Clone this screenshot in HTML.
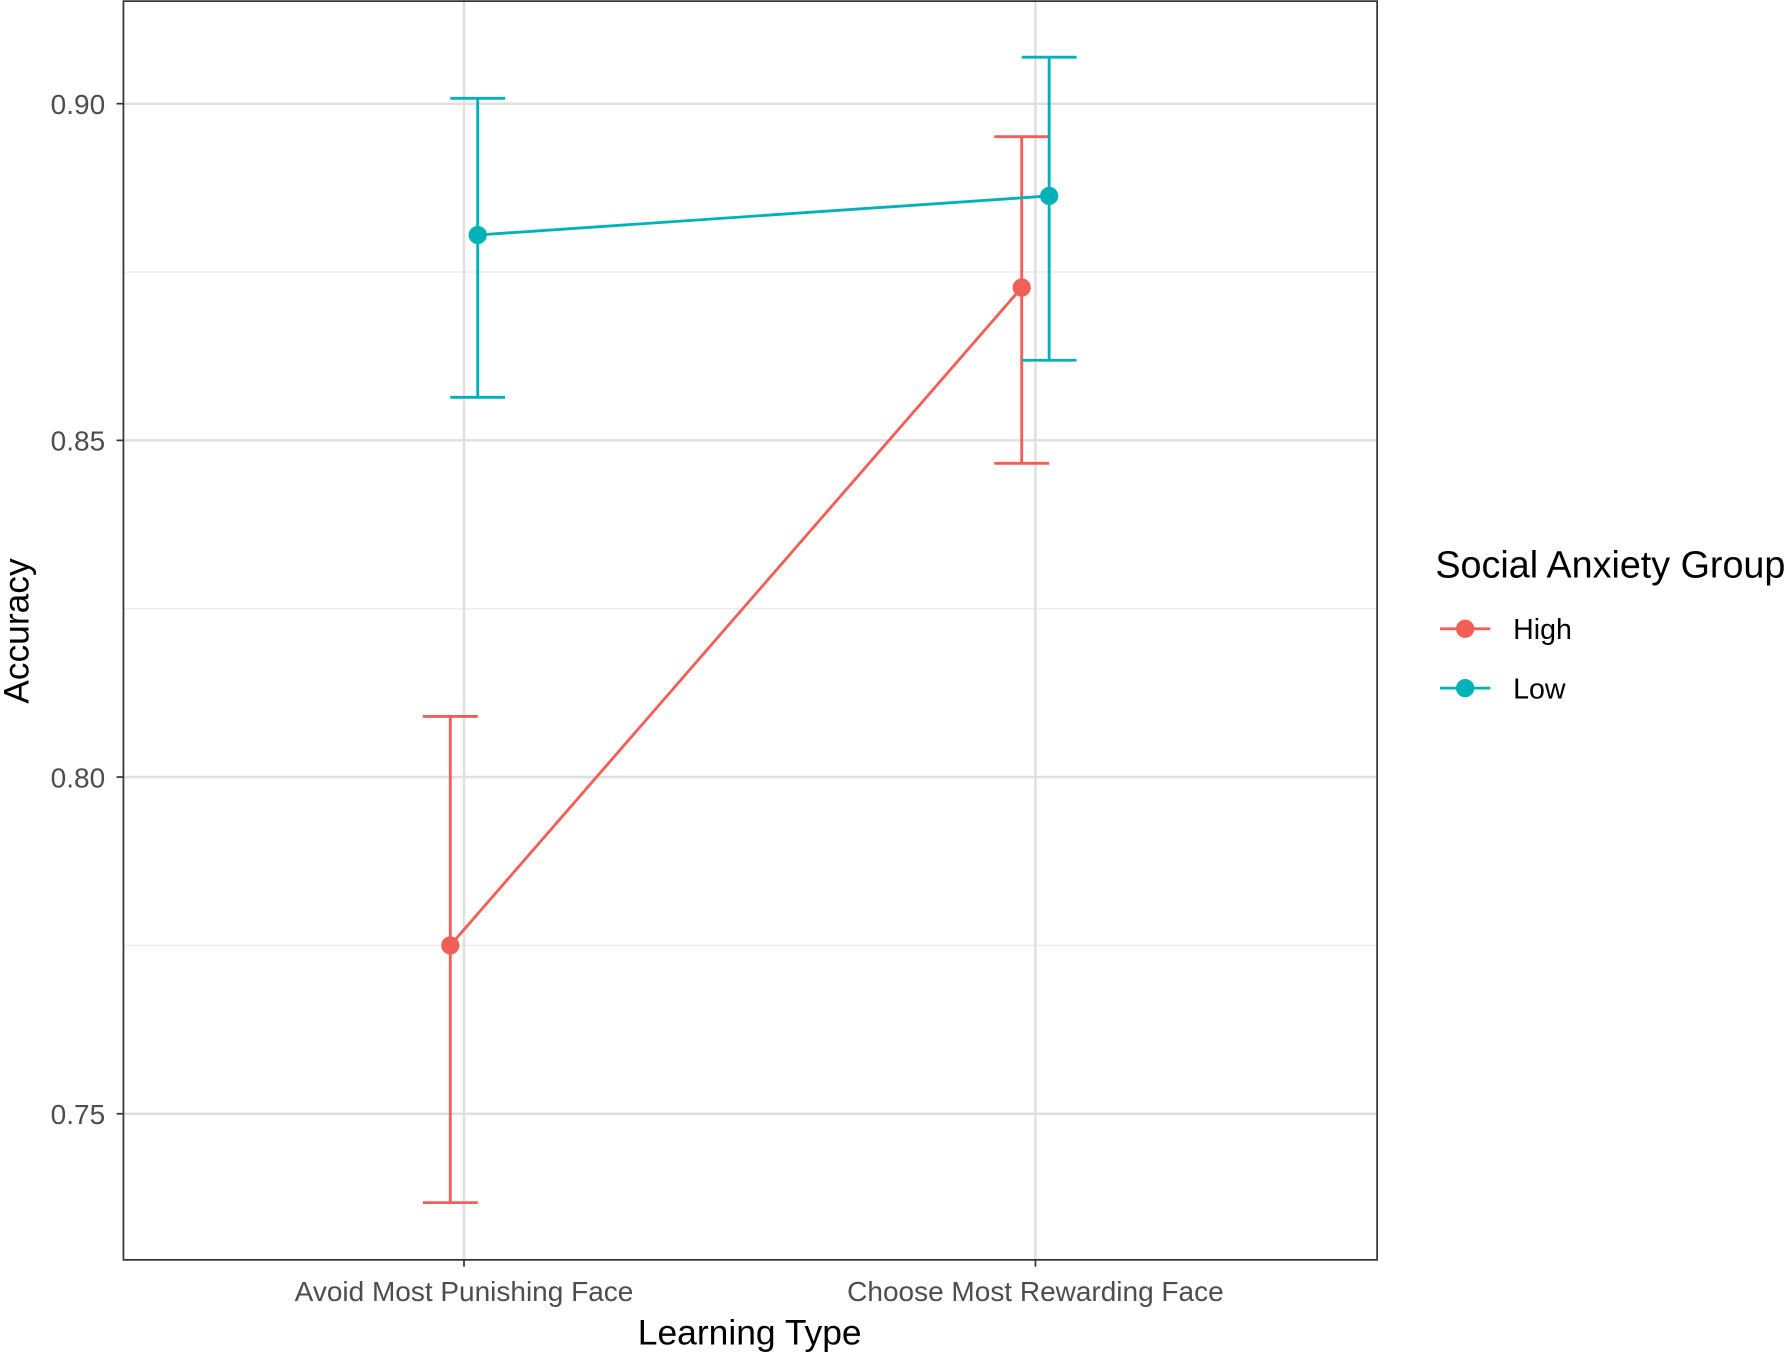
<!DOCTYPE html>
<html><head><meta charset="utf-8"><style>
html,body{margin:0;padding:0;background:#fff}
svg{display:block;font-family:"Liberation Sans",Arial,sans-serif}
</style></head><body>
<svg id="chart" width="1792" height="1358" viewBox="0 0 1568 1190" preserveAspectRatio="none" xmlns="http://www.w3.org/2000/svg">
<g id="grid"></g>
<g id="marks"></g>
<g id="axes"></g>
<text transform="translate(25,553) rotate(-90)" text-anchor="middle" font-size="31" fill="#000">Accuracy</text>
<text x="656" y="1178" text-anchor="middle" font-size="31" fill="#000">Learning Type</text>
<g>
<text x="1256" y="506" font-size="33" fill="#000">Social Anxiety Group</text>
<g>
<line x1="1260" x2="1304" y1="551" y2="551" stroke="#F25F57" stroke-width="2.5"/>
<circle cx="1282" cy="551" r="8" fill="#F25F57"/>
<text x="1324" y="560" font-size="25" fill="#000">High</text></g>
<g>
<line x1="1260" x2="1304" y1="603" y2="603" stroke="#00B2B8" stroke-width="2.5"/>
<circle cx="1282" cy="603" r="8" fill="#00B2B8"/>
<text x="1324" y="612" font-size="25" fill="#000">Low</text></g>
</g>
</svg>
<script>
const categories = ["Avoid Most Punishing Face", "Choose Most Rewarding Face"];
const groups = ["High", "Low"];
const highMean = [0.775, 0.8727];
const highLower = [0.7368, 0.8466];
const highUpper = [0.809, 0.8951];
const lowMean = [0.8805, 0.8863];
const lowLower = [0.8564, 0.8619];
const lowUpper = [0.9008, 0.9069];
const yTicks = [0.75, 0.80, 0.85, 0.90];
const yMinor = [0.775, 0.825, 0.875];

const NS = "http://www.w3.org/2000/svg";
const P = {l:108, r:1205, t:0, b:1104};
const yMin = 0.7283, yMax = 0.9154;
function y(v){ return P.b - (v - yMin) / (yMax - yMin) * (P.b - P.t); }
function x(i){ return 406 + i * 500; }
function mk(tag, attrs, parent){ const e = document.createElementNS(NS, tag); for (const k in attrs) e.setAttribute(k, attrs[k]); parent.appendChild(e); return e; }
const grid = document.getElementById('grid'), marks = document.getElementById('marks'), axes = document.getElementById('axes');

yMinor.forEach(v => { const l = mk('line', {x1:P.l, x2:P.r, y1:y(v), y2:y(v), stroke:'#ebebeb', 'stroke-width':1.2}, grid);
  
   });
yTicks.forEach(v => { const l = mk('line', {x1:P.l, x2:P.r, y1:y(v), y2:y(v), stroke:'#e0e0e0', 'stroke-width':2.2}, grid);
  
  
  const t = mk('line', {x1:P.l-6, x2:P.l, y1:y(v), y2:y(v), stroke:'#333', 'stroke-width':1.5}, axes);
  
  
  const tx = mk('text', {x:P.l-16, y:y(v)+9, 'text-anchor':'end', 'font-size':24.5, fill:'#4d4d4d'}, axes);
  tx.textContent = v.toFixed(2);
  
   });
categories.forEach((c, i) => { const l = mk('line', {x1:x(i), x2:x(i), y1:P.t, y2:P.b, stroke:'#e0e0e0', 'stroke-width':2.2}, grid);
  
  
  const t = mk('line', {x1:x(i), x2:x(i), y1:P.b, y2:P.b+6, stroke:'#333', 'stroke-width':1.5}, axes);
  
  
  const tx = mk('text', {x:x(i), y:P.b+36, 'text-anchor':'middle', 'font-size':24.5, fill:'#4d4d4d'}, axes);
  tx.textContent = c;
  
   });
const border = mk('rect', {x:P.l, y:P.t+1, width:P.r-P.l, height:P.b-P.t-1, fill:'none', stroke:'#333', 'stroke-width':1.5}, axes);



const series = [
  {name:'high', color:'#F25F57', off:-12, m:highMean, lo:highLower, hi:highUpper},
  {name:'low', color:'#00B2B8', off:12, m:lowMean, lo:lowLower, hi:lowUpper}
];
series.forEach(s => {
  const g = mk('g', {}, marks);
  
  
  s.m.forEach((v, i) => {
    const cx = x(i) + s.off;
    const eb = mk('path', {d:`M${cx-24},${y(s.hi[i])}H${cx+24}M${cx},${y(s.hi[i])}V${y(s.lo[i])}M${cx-24},${y(s.lo[i])}H${cx+24}`, stroke:s.color, 'stroke-width':2.5, fill:'none'}, g);
    
    
  });
  const ln = mk('polyline', {points:s.m.map((v, i) => `${x(i)+s.off},${y(v)}`).join(' '), stroke:s.color, 'stroke-width':2.5, fill:'none'}, g);
  
  
  s.m.forEach((v, i) => {
    const c = mk('circle', {cx:x(i)+s.off, cy:y(v), r:8, fill:s.color}, g);
    
    
  });
});
</script>
</body></html>
